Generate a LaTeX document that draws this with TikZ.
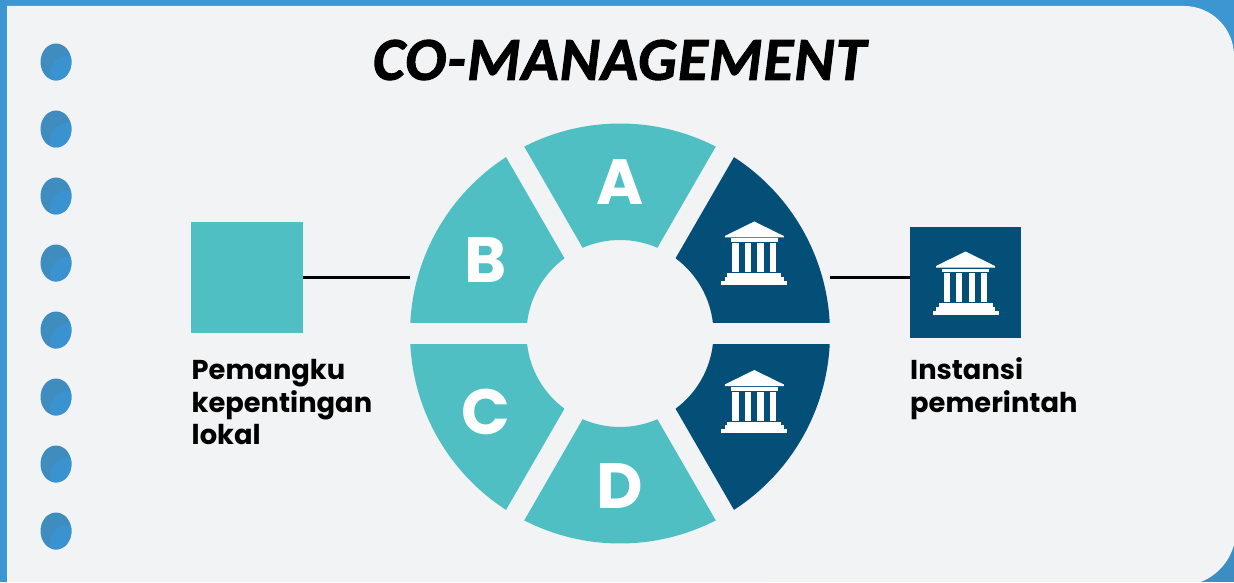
\documentclass[tikz,border=0pt]{standalone}
\usepackage{fontspec}
\usetikzlibrary{shapes.geometric, positioning}
\setmainfont{Poppins}
\newfontfamily\titlefont[FakeBold=1.6, LetterSpace=2]{Carlito}
\definecolor{frameblue}{HTML}{3C96D2}
\definecolor{frameshade}{HTML}{3C8DC2}
\definecolor{paneltone}{HTML}{F2F3F5}
\definecolor{tealtone}{HTML}{4FBFC3}
\definecolor{navytone}{HTML}{034F78}
\definecolor{dotdark}{HTML}{3F8CBF}
\definecolor{dotlight}{HTML}{3A93D0}
\newcommand{\ringseg}[2]{%
    \fill [#2] (#1+2.87:210pt) arc [start angle=#1+2.87, end angle=#1+57.13, radius=210pt]
        -- (#1+53.55:93.5pt) arc [start angle=#1+53.55, end angle=#1+6.45, radius=93.5pt] -- cycle;
}
\tikzset{
    bank/.pic={
        \fill (0,31) -- (29.5,16.5) -- (29.5,15) -- (-29.5,15) -- (-29.5,16.5) -- cycle; % roof
        \fill (-23.7,10.5) rectangle (23.7,14);
        \foreach \colX in {-22,-9.7,3,15.7} {
            \fill (\colX,-19.5) rectangle +(6.2,29);
        }
        \fill (-27,-24) rectangle (27,-20.5);
        \fill (-29.5,-28) rectangle (29.5,-24);
        \fill (-33,-32) rectangle (33,-28);
    },
}
\begin{document}
\begin{tikzpicture}[
    x=1pt, y=1pt,
    square/.style={minimum size=111.5pt, inner sep=0pt},
    segletter/.style={text=white, font=\bfseries\fontsize{64}{64}\selectfont},
    caption/.style={anchor=north west, align=left, inner sep=0pt, text=black,
        font=\bfseries\fontsize{27.3}{32.5}\selectfont},
    dotmark/.style={ellipse, minimum width=31pt, minimum height=37pt, inner sep=0pt, fill=dotdark,
        path picture={\fill [dotlight] ([shift={(12,-12)}]path picture bounding box.center) circle (18pt);}},
    link/.style={draw=black, line width=3pt},
    ]
    \useasboundingbox (0,0) rectangle (1234,582);
    \fill [frameblue] (0,0) rectangle (1234,582); % frame
    \fill [frameshade] (1170,0) rectangle (1234,60);
    \fill [paneltone] (7,0) -- (7,576) -- (1184,576) arc [start angle=90, end angle=0, radius=50pt]
        -- (1236,52) arc [start angle=0, end angle=-68.2, radius=56pt] -- cycle;

    \foreach \dotN/\dotY in {1/520,2/453,3/386,4/319,5/252,6/185,7/118,8/51} {
        \node (dot\dotN) [dotmark] at (56,\dotY) {};
    }

    \node (title) at (619.5,522) {\titlefont\bfseries\itshape\fontsize{61}{61}\selectfont CO-MANAGEMENT};

    % ring
    \begin{scope}[shift={(620,248.5)}]
        \ringseg{0}{navytone}
        \ringseg{60}{tealtone}
        \ringseg{120}{tealtone}
        \ringseg{180}{tealtone}
        \ringseg{240}{tealtone}
        \ringseg{300}{navytone}
    \end{scope}
    \node (segA) [segletter] at (620,400) {A};
    \node (segB) [segletter] at (486,322) {B};
    \node (segC) [segletter] at (486,170) {C};
    \node (segD) [segletter] at (620,96) {D};
    \pic [white] at (754.3,329.5) {bank};
    \pic [white] at (754.3,181) {bank};

    \coordinate (ringLeft) at (410,305);
    \coordinate (ringRight) at (830,305);
    \node (local) [square, fill=tealtone] at (247,304.5) {};
    \node (gov) [square, fill=navytone] at (965.5,299.5) {};
    \pic [white] at (gov) {bank};
    \draw [link] (ringLeft -| local.east) -- (ringLeft);
    \draw [link] (ringRight) -- (ringRight -| gov.west);

    \node (localText) [caption] at (191.5,222.5) {Pemangku\\kepentingan\\lokal};
    \node (govText) [caption] at (910,224.5) {Instansi\\pemerintah};
\end{tikzpicture}
\end{document}
